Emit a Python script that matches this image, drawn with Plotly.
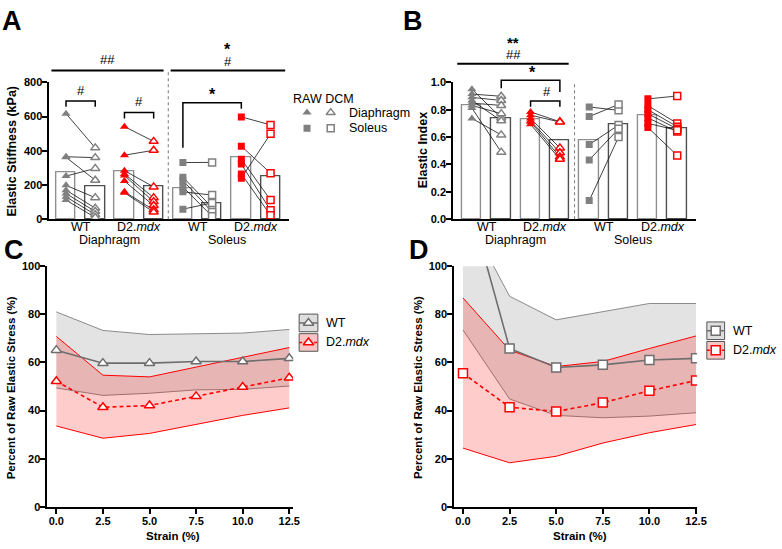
import plotly.graph_objects as go

W, H = 782, 549
def fx(p): return p / W
def fy(p): return 1 - p / H

FONT = 'Arial, "Liberation Sans", sans-serif'
GREY = '#808080'
RED = '#ff0000'

# ---------------- Panel A / B data ----------------
bar_pos = [0, 1, 2, 3, 4, 5, 6, 7]
cat_tick_pos = [0.5, 2.5, 4.5, 6.5]
cat_ticks = ['WT', 'D2.<i>mdx</i>', 'WT', 'D2.<i>mdx</i>']
group_labels = ['Diaphragm', 'Soleus']

a_bars = [275, 193, 283, 193, 180, 92, 362, 248]
a_dia_wt_raw = [617, 365, 362, 252, 198, 170, 150, 131, 112]
a_dia_wt_dcm = [417, 360, 228, 297, 126, 65, 46, 27, 10]
a_dia_d2_raw = [541, 374, 284, 265, 255, 223, 160, 155]
a_dia_d2_dcm = [455, 403, 189, 126, 103, 80, 55, 42]
a_sol_wt_raw = [331, 246, 227, 189, 160, 59]
a_sol_wt_dcm = [332, 69, 42, 17, 141, 95]
a_sol_d2_raw = [598, 427, 351, 322, 265, 240]
a_sol_d2_dcm = [551, 269, 112, 52, 23, 499]

b_bars = [0.835, 0.735, 0.73, 0.575, 0.58, 0.695, 0.76, 0.665]
b_dia_wt_raw = [0.95, 0.914, 0.89, 0.867, 0.848, 0.831, 0.812, 0.736]
b_dia_wt_dcm = [0.74, 0.898, 0.867, 0.719, 0.831, 0.771, 0.49, 0.616]
b_dia_d2_raw = [0.784, 0.76, 0.736, 0.72, 0.712, 0.693]
b_dia_d2_dcm = [0.712, 0.71, 0.521, 0.486, 0.455, 0.438]
b_sol_wt_raw = [0.82, 0.75, 0.545, 0.433, 0.136]
b_sol_wt_dcm = [0.795, 0.838, 0.688, 0.66, 0.60]
b_sol_d2_raw = [0.879, 0.83, 0.80, 0.77, 0.74, 0.70, 0.67]
b_sol_d2_dcm = [0.90, 0.70, 0.676, 0.66, 0.64, 0.65, 0.466]

# ---------------- Panel C / D data ----------------
strain = [0, 2.5, 5, 7.5, 10, 12.5]
c_wt_mean = [65.1, 59.7, 59.7, 60.4, 60.4, 61.7]
c_wt_upper = [81.0, 73.3, 71.6, 71.9, 72.2, 73.7]
c_wt_lower = [49.4, 46.3, 47.2, 48.6, 48.8, 50.2]
c_d2_mean = [52.2, 41.4, 42.1, 45.9, 49.8, 53.6]
c_d2_upper = [70.8, 54.7, 54.0, 58.1, 62.1, 66.2]
c_d2_lower = [33.6, 28.5, 30.5, 34.3, 38.0, 41.1]

d_wt_mean = [136.0, 65.8, 57.9, 59.0, 61.0, 61.7]
d_wt_upper = [124.0, 87.5, 77.7, 81.2, 84.5, 84.5]
d_wt_lower = [73.5, 44.8, 38.0, 37.0, 37.7, 39.1]
d_d2_mean = [55.5, 41.4, 39.6, 43.3, 48.2, 52.5]
d_d2_upper = [86.8, 65.1, 58.3, 60.4, 65.8, 71.0]
d_d2_lower = [24.4, 18.3, 21.0, 26.5, 30.8, 34.2]

fig = go.Figure()
bar_edges = ['#8f8f8f', '#4f4f4f'] * 4

def add_bar_panel(xa, ya, bars, groups):
    fig.add_trace(go.Bar(x=bar_pos, y=bars, width=0.66, xaxis=xa, yaxis=ya,
                         marker=dict(color='white', line=dict(color=bar_edges, width=1.4)),
                         showlegend=False, hoverinfo='skip'))
    for gi, (raw, dcm, color, sym, size) in enumerate(groups):
        xs, ys = [], []
        for r, d in zip(raw, dcm):
            xs += [bar_pos[2 * gi], bar_pos[2 * gi + 1], None]
            ys += [r, d, None]
        fig.add_trace(go.Scatter(x=xs, y=ys, mode='lines', xaxis=xa, yaxis=ya,
                                 line=dict(color='#111111', width=0.8), showlegend=False))
    for gi, (raw, dcm, color, sym, size) in enumerate(groups):
        fig.add_trace(go.Scatter(x=[bar_pos[2 * gi]] * len(raw), y=raw, mode='markers',
                                 xaxis=xa, yaxis=ya, showlegend=False,
                                 marker=dict(symbol=sym, color=color, size=size, line=dict(width=0))))
        fig.add_trace(go.Scatter(x=[bar_pos[2 * gi + 1]] * len(dcm), y=dcm, mode='markers',
                                 xaxis=xa, yaxis=ya, showlegend=False,
                                 marker=dict(symbol=sym, color='white', size=size,
                                             line=dict(color=color, width=1.5))))

add_bar_panel('x', 'y', a_bars, [
    (a_dia_wt_raw, a_dia_wt_dcm, GREY, 'triangle-up', 8),
    (a_dia_d2_raw, a_dia_d2_dcm, RED, 'triangle-up', 8),
    (a_sol_wt_raw, a_sol_wt_dcm, GREY, 'square', 7),
    (a_sol_d2_raw, a_sol_d2_dcm, RED, 'square', 7)])
add_bar_panel('x2', 'y2', b_bars, [
    (b_dia_wt_raw, b_dia_wt_dcm, GREY, 'triangle-up', 8),
    (b_dia_d2_raw, b_dia_d2_dcm, RED, 'triangle-up', 8),
    (b_sol_wt_raw, b_sol_wt_dcm, GREY, 'square', 7),
    (b_sol_d2_raw, b_sol_d2_dcm, RED, 'square', 7)])

def add_line_panel(xa, ya, wt, d2, sym):
    (wm, wu, wl), (dm, du, dl) = wt, d2
    fig.add_trace(go.Scatter(x=strain, y=wl, mode='lines', xaxis=xa, yaxis=ya, showlegend=False,
                             line=dict(color='#8a8a8a', width=1)))
    fig.add_trace(go.Scatter(x=strain, y=wu, mode='lines', xaxis=xa, yaxis=ya, showlegend=False,
                             fill='tonexty', fillcolor='rgba(128,128,128,0.22)',
                             line=dict(color='#8a8a8a', width=1)))
    fig.add_trace(go.Scatter(x=strain, y=dl, mode='lines', xaxis=xa, yaxis=ya, showlegend=False,
                             line=dict(color=RED, width=1)))
    fig.add_trace(go.Scatter(x=strain, y=du, mode='lines', xaxis=xa, yaxis=ya, showlegend=False,
                             fill='tonexty', fillcolor='rgba(255,0,0,0.2)',
                             line=dict(color=RED, width=1)))
    fig.add_trace(go.Scatter(x=strain, y=wm, mode='lines+markers', xaxis=xa, yaxis=ya, showlegend=False,
                             line=dict(color='#6e6e6e', width=1.6),
                             marker=dict(symbol=sym, size=9, color='white', line=dict(color='#6e6e6e', width=1.5))))
    fig.add_trace(go.Scatter(x=strain, y=dm, mode='lines+markers', xaxis=xa, yaxis=ya, showlegend=False,
                             line=dict(color=RED, width=1.6, dash='4px,3px'),
                             marker=dict(symbol=sym, size=9, color='white', line=dict(color=RED, width=1.5))))

add_line_panel('x3', 'y3', (c_wt_mean, c_wt_upper, c_wt_lower), (c_d2_mean, c_d2_upper, c_d2_lower), 'triangle-up')
add_line_panel('x4', 'y4', (d_wt_mean, d_wt_upper, d_wt_lower), (d_d2_mean, d_d2_upper, d_d2_lower), 'square')

# ---------------- legends (pixel overlay axis) ----------------
def px_marker(x, y, sym, color, fill, size):
    fig.add_trace(go.Scatter(x=[x], y=[y], mode='markers', xaxis='x5', yaxis='y5', showlegend=False,
                             marker=dict(symbol=sym, size=size, color=fill,
                                         line=dict(color=color, width=1.5 if fill == 'white' else 0))))

px_marker(311, 109, 'triangle-up', GREY, GREY, 8)
px_marker(335, 109, 'triangle-up', GREY, 'white', 8)
px_marker(311, 125, 'square', GREY, GREY, 7)
px_marker(335, 125, 'square', GREY, 'white', 7)

shapes = []
annotations = []

def legend_item(x0, x1, yc, fill, lcolor, dash, sym, text):
    shapes.append(dict(type='rect', xref='x5', yref='y5', x0=x0, x1=x1, y0=yc - 9, y1=yc + 9,
                       fillcolor=fill, line=dict(color='#555555', width=1), layer='below'))
    fig.add_trace(go.Scatter(x=[x0, x1], y=[yc, yc], mode='lines', xaxis='x5', yaxis='y5', showlegend=False,
                             line=dict(color=lcolor, width=1.5, dash=dash)))
    px_marker((x0 + x1) / 2, yc, sym, lcolor, 'white', 9)
    annotations.append(dict(text=text, xref='x5', yref='y5', x=x1 + 6, y=yc, xanchor='left',
                            yanchor='middle', showarrow=False, font=dict(size=12.5)))

legend_item(303, 322, 324, '#dedede', '#6e6e6e', 'solid', 'triangle-up', 'WT')
legend_item(303, 322, 344, '#f8c4c4', RED, '3px,2px', 'triangle-up', 'D2.<i>mdx</i>')
legend_item(716, 734, 332, '#dedede', '#6e6e6e', 'solid', 'square', 'WT')
legend_item(716, 734, 352, '#f8c4c4', RED, '3px,2px', 'square', 'D2.<i>mdx</i>')

def txt(text, xref, x, y, size=12, bold=False, angle=0, xanchor='center', height=None):
    a = dict(text=text, xref=xref, yref='paper', x=x, y=fy(y), xanchor=xanchor,
             yanchor='middle', showarrow=False, textangle=angle,
             font=dict(size=size, weight='bold' if bold else 'normal', color='black'))
    if height:
        a['height'] = height
    annotations.append(a)

txt('RAW DCM', 'paper', fx(295), 95, 12.5, xanchor='left')
txt('Diaphragm', 'paper', fx(351), 109, 12.5, xanchor='left')
txt('Soleus', 'paper', fx(351), 125, 12.5, xanchor='left')

# panel letters
txt('A', 'paper', fx(12), 15, 27, True)
txt('B', 'paper', fx(418), 15, 27, True)
txt('C', 'paper', fx(14), 249, 27, True)
txt('D', 'paper', fx(424), 249, 27, True)

# axis titles
txt('Elastic Stiffness (kPa)', 'paper', fx(12), 148, 12.5, True, -90)
txt('Elastic Index', 'paper', fx(428), 148, 12.5, True, -90)
txt('Percent of Raw Elastic Stress (%)', 'paper', fx(12), 390, 11.5, True, -90)
txt('Percent of Raw Elastic Stress (%)', 'paper', fx(424), 390, 11.5, True, -90)
txt('Strain (%)', 'x3', 6.25, 542, 11.5, True)
txt('Strain (%)', 'x4', 6.25, 542, 11.5, True)

# category tick labels and group labels
for xa in ['x', 'x2']:
    for pos, lab in zip(cat_tick_pos, cat_ticks):
        txt(lab, xa, pos, 226, 12.5)
    txt(group_labels[0], xa, 1.5, 239, 12.5)
    txt(group_labels[1], xa, 5.5, 239, 12.5)

def hline(xref, x0, x1, y, w=2):
    shapes.append(dict(type='line', xref=xref, yref='paper', x0=x0, x1=x1, y0=fy(y), y1=fy(y),
                       line=dict(color='black', width=w)))

def bracket(xref, x0, x1, ytop, yl, yr):
    shapes.append(dict(type='path', xref=xref, yref='paper',
                       path=f'M {x0},{fy(yl)} L {x0},{fy(ytop)} L {x1},{fy(ytop)} L {x1},{fy(yr)}',
                       line=dict(color='black', width=1.5)))

# Panel A significance
hline('x', -0.5, 3.34, 66)
hline('x', 3.58, 7.5, 66)
txt('##', 'x', 1.42, 55, 13)
txt('*', 'x', 5.54, 44, 16, True, height=13)
txt('#', 'x', 5.54, 57, 13, height=11)
bracket('x', 0, 1, 97, 103, 103)
txt('#', 'x', 0.5, 86, 13)
bracket('x', 2, 3, 109, 115, 115)
txt('#', 'x', 2.5, 98, 13)
bracket('x', 4, 6, 99, 145, 105)
txt('*', 'x', 5, 90, 16, True)
shapes.append(dict(type='line', xref='x', yref='paper', x0=3.5, x1=3.5, y0=fy(218), y1=fy(67),
                   line=dict(color='#777777', width=1, dash='dot')))

# Panel B significance
hline('x2', -0.5, 3.3, 59)
txt('**', 'x2', 1.41, 37, 15, True, height=13)
txt('##', 'x2', 1.41, 50, 13, height=11)
bracket('x2', 1, 3, 76, 84, 88)
txt('*', 'x2', 2.05, 68, 16, True, height=13)
bracket('x2', 2, 3, 97, 103, 103)
txt('#', 'x2', 2.55, 87, 13)
shapes.append(dict(type='line', xref='x2', yref='paper', x0=3.5, x1=3.5, y0=fy(218), y1=fy(78),
                   line=dict(color='#777777', width=1, dash='dot')))

ax_common = dict(showline=True, linecolor='black', linewidth=1.8, showgrid=False, zeroline=False,
                 ticks='outside', ticklen=5, tickwidth=1.5, tickcolor='black', ticklabelstandoff=-2,
                 tickfont=dict(size=11, weight='bold', color='black'))
cat_x = dict(showline=True, linecolor='black', linewidth=1.8, showgrid=False, zeroline=False,
             ticks='', showticklabels=False)

fig.update_layout(
    width=W, height=H, margin=dict(l=0, r=0, t=0, b=0),
    paper_bgcolor='white', plot_bgcolor='rgba(0,0,0,0)',
    font=dict(family=FONT, color='black'),
    showlegend=False, bargap=0,
    xaxis=dict(cat_x, domain=[fx(50), fx(293)], range=[-0.57, 7.64], anchor='y'),
    yaxis=dict(ax_common, domain=[fy(218), fy(78)], range=[0, 800], tickvals=[0, 200, 400, 600, 800], anchor='x'),
    xaxis2=dict(cat_x, domain=[fx(459), fx(705)], range=[-0.64, 7.64], anchor='y2'),
    yaxis2=dict(ax_common, domain=[fy(218), fy(78)], range=[0, 1], tickvals=[0, 0.2, 0.4, 0.6, 0.8, 1.0],
                tickformat='.1f', anchor='x2'),
    xaxis3=dict(ax_common, domain=[fx(48), fx(297)], range=[-0.48, 12.71], tickvals=strain,
                tickformat='.1f', anchor='y3'),
    yaxis3=dict(ax_common, domain=[fy(512), fy(266)], range=[0, 100], tickvals=[0, 20, 40, 60, 80, 100], anchor='x3'),
    xaxis4=dict(ax_common, domain=[fx(460), fx(706)], range=[-0.475, 12.55], tickvals=strain,
                tickformat='.1f', anchor='y4'),
    yaxis4=dict(ax_common, domain=[fy(512), fy(266)], range=[0, 100], tickvals=[0, 20, 40, 60, 80, 100], anchor='x4'),
    xaxis5=dict(domain=[0, 1], range=[0, W], visible=False, anchor='y5', fixedrange=True),
    yaxis5=dict(domain=[0, 1], range=[H, 0], visible=False, anchor='x5', fixedrange=True),
    shapes=shapes, annotations=annotations,
)

fig.write_html('out.html', config={'displayModeBar': False},
               post_script="document.body.style.margin='0px';document.body.style.overflow='hidden';")
